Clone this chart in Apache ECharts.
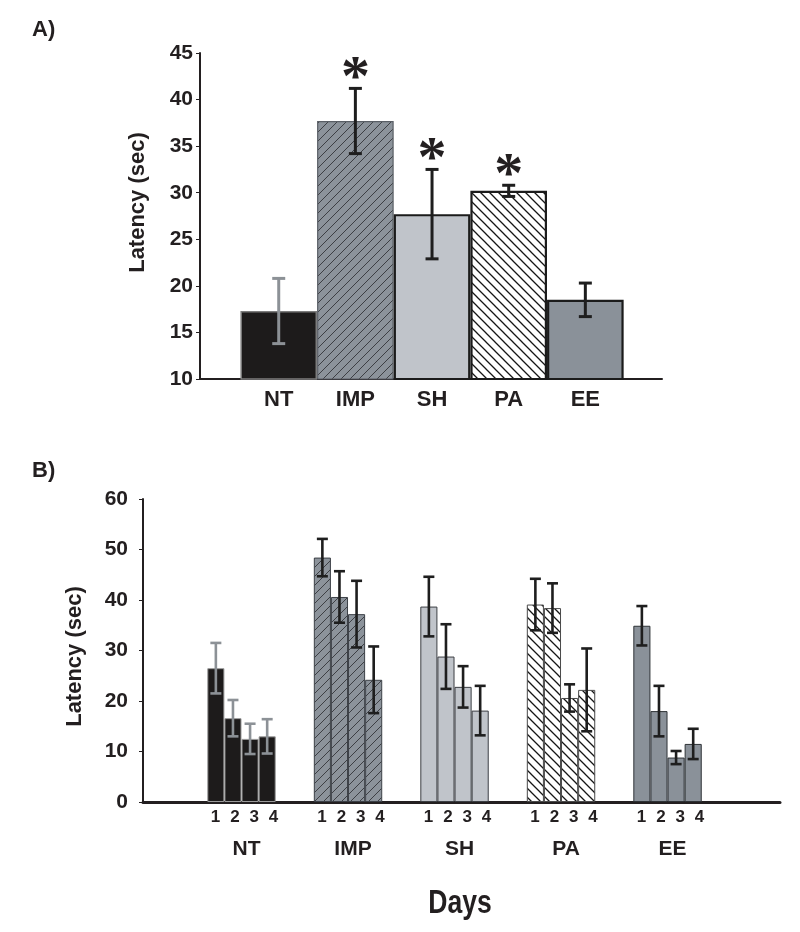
<!DOCTYPE html>
<html>
<head>
<meta charset="utf-8">
<script src="https://cdn.jsdelivr.net/npm/echarts@6/dist/echarts.min.js"></script>
<style>
html,body{margin:0;padding:0;background:#fff;}
#chart{width:800px;height:932px;}
</style>
</head>
<body>
<div id="chart"></div>
<script>
// ---------------- DATA ----------------
const groups = ['NT', 'IMP', 'SH', 'PA', 'EE'];
const days = ['1', '2', '3', '4'];
const yTicksA = [10, 45, 5];   // min, max, interval
const yTicksB = [0, 60, 10];

// Panel A: mean latency (sec) and error
const latencyA = [17.3, 37.7, 27.7, 30.2, 18.5];
const errA = [3.5, 3.5, 4.8, 0.6, 1.8];
const signifA = [0, 1, 1, 1, 0];

// Panel B: latency per day (sec) and error, by group
const latNT = [26.5, 16.6, 12.5, 13.0];
const errNT = [5.0, 3.6, 3.0, 3.4];
const latIMP = [48.4, 40.6, 37.2, 24.2];
const errIMP = [3.7, 5.1, 6.6, 6.6];
const latSH = [38.7, 28.8, 22.8, 18.1];
const errSH = [5.9, 6.4, 4.1, 4.9];
const latPA = [39.1, 38.4, 20.6, 22.2];
const errPA = [5.1, 4.9, 2.7, 8.2];
const latEE = [34.9, 18.0, 8.8, 11.5];
const errEE = [3.9, 5.0, 1.3, 3.0];

const latB = [latNT, latIMP, latSH, latPA, latEE];
const errB = [errNT, errIMP, errSH, errPA, errEE];

// ---------------- STYLES ----------------
const FONT = '"Liberation Sans", Arial, Helvetica, sans-serif';
const INK = '#231f20';

function hatch(bg, fg, dir, s, lw) {
  const c = document.createElement('canvas');
  c.width = s; c.height = s;
  const g = c.getContext('2d');
  g.fillStyle = bg; g.fillRect(0, 0, s, s);
  g.strokeStyle = fg; g.lineWidth = lw;
  g.beginPath();
  if (dir === '/') {
    g.moveTo(-1, 1); g.lineTo(1, -1);
    g.moveTo(0, s); g.lineTo(s, 0);
    g.moveTo(s - 1, s + 1); g.lineTo(s + 1, s - 1);
  } else {
    g.moveTo(-1, s - 1); g.lineTo(1, s + 1);
    g.moveTo(0, 0); g.lineTo(s, s);
    g.moveTo(s - 1, -1); g.lineTo(s + 1, 1);
  }
  g.stroke();
  return { image: c, repeat: 'repeat' };
}

const fillNT = '#1d1b1b';
const fillIMP = hatch('#8c939b', '#34363a', '/', 9, 0.9);
const fillSH = '#c0c4ca';
const fillPA = hatch('#ffffff', '#161616', '\\', 9, 1.3);
const fillEE = '#8a9199';

const styleA = [
  { color: fillNT, borderColor: '#7d7d7d', borderWidth: 1.5 },
  { color: fillIMP, borderColor: '#5a5f66', borderWidth: 1.2 },
  { color: fillSH, borderColor: '#1b1b1b', borderWidth: 2.2 },
  { color: fillPA, borderColor: '#1b1b1b', borderWidth: 2.2 },
  { color: fillEE, borderColor: '#1b1b1b', borderWidth: 2.2 }
];
const styleB = [
  { color: fillNT, borderColor: '#9a9a9a', borderWidth: 1 },
  { color: fillIMP, borderColor: '#3c4047', borderWidth: 1 },
  { color: fillSH, borderColor: '#3c3f44', borderWidth: 1 },
  { color: fillPA, borderColor: '#4a4a4a', borderWidth: 1 },
  { color: fillEE, borderColor: '#2e3236', borderWidth: 1 }
];
const errColor = ['#8c9196', '#1e1e1e', '#1e1e1e', '#1e1e1e', '#1e1e1e'];

// layout constants for panel B (in group units)
const BW = 0.1606;      // bar slot width
const LW = 0.181;       // day label spacing
const LS = 0.028;       // day label shift
const GS = 0.047;       // group label shift

// ---------------- BUILD ----------------
const barDataA = groups.map((g, i) => ({ value: [i, latencyA[i]], itemStyle: styleA[i] }));
const errDataA = groups.map((g, i) => [i, latencyA[i] - errA[i], latencyA[i] + errA[i], i, signifA[i]]);

const barDataB = [];
const errDataB = [];
const dayLabelPos = [];
groups.forEach((g, i) => {
  days.forEach((d, j) => {
    const x = i + (j - 1.5) * BW;
    barDataB.push({ value: [x, latB[i][j]], itemStyle: styleB[i] });
    errDataB.push([x, latB[i][j] - errB[i][j], latB[i][j] + errB[i][j], i, 0]);
    dayLabelPos.push(i + LS + (j - 1.5) * LW);
  });
});

function makeErr(capHalf, lw, starGap) {
  return function (params, api) {
    const x = api.value(0), lo = api.value(1), hi = api.value(2);
    const gi = api.value(3), star = api.value(4);
    const pH = api.coord([x, hi]);
    const pL = api.coord([x, lo]);
    const st = { stroke: errColor[gi], lineWidth: lw };
    const children = [
      { type: 'line', shape: { x1: pH[0], y1: pH[1], x2: pL[0], y2: pL[1] }, style: st },
      { type: 'line', shape: { x1: pH[0] - capHalf, y1: pH[1], x2: pH[0] + capHalf, y2: pH[1] }, style: st },
      { type: 'line', shape: { x1: pL[0] - capHalf, y1: pL[1], x2: pL[0] + capHalf, y2: pL[1] }, style: st }
    ];
    if (star) {
      children.push({
        type: 'text',
        style: {
          text: '*', x: pH[0], y: pH[1] - starGap,
          align: 'center', verticalAlign: 'middle',
          font: 'bold 58px "Liberation Serif", "Times New Roman", serif',
          fill: INK
        }
      });
    }
    return { type: 'group', children: children };
  };
}

const chart = echarts.init(document.getElementById('chart'), null, { renderer: 'canvas' });

const option = {
  backgroundColor: '#ffffff',
  animation: false,
  title: [
    { text: 'A)', left: 27, top: 14, textStyle: { fontFamily: FONT, fontSize: 22, fontWeight: 'bold', color: INK } },
    { text: 'B)', left: 27, top: 455, textStyle: { fontFamily: FONT, fontSize: 22, fontWeight: 'bold', color: INK } }
  ],
  graphic: [
    { type: 'text', x: 460, y: 904, scaleX: 0.78,
      style: { text: 'Days', align: 'center', verticalAlign: 'middle',
        font: 'bold 34px "Liberation Sans", Arial, sans-serif', fill: INK } }
  ],
  grid: [
    { left: 200, top: 53, width: 462, height: 326 },
    { left: 143, top: 499, width: 637, height: 303 }
  ],
  xAxis: [
    {
      gridIndex: 0, type: 'value', min: -1.027, max: 5.0,
      axisLine: { show: true, onZero: false, lineStyle: { color: INK, width: 2 } },
      axisTick: { show: false }, splitLine: { show: false },
      axisLabel: {
        customValues: [0, 1, 2, 3, 4],
        formatter: v => groups[Math.round(v)] || '',
        margin: 10, fontFamily: FONT, fontSize: 22, fontWeight: 'bold', color: INK
      }
    },
    {
      gridIndex: 1, type: 'value', min: -0.925, max: 5.056,
      axisLine: { show: true, onZero: false, lineStyle: { color: INK, width: 3 } },
      axisTick: { show: false }, splitLine: { show: false },
      axisLabel: {
        customValues: dayLabelPos,
        formatter: v => {
          const i = Math.round(v);
          const j = Math.round((v - i - LS) / LW + 1.5);
          return days[j] || '';
        },
        margin: 7, fontFamily: FONT, fontSize: 17, fontWeight: 'bold', color: INK
      }
    },
    {
      gridIndex: 1, type: 'value', min: -0.925, max: 5.056, position: 'bottom',
      axisLine: { show: false }, axisTick: { show: false }, splitLine: { show: false },
      axisLabel: {
        customValues: groups.map((g, i) => i + GS),
        formatter: v => groups[Math.round(v)] || '',
        margin: 37, fontFamily: FONT, fontSize: 21, fontWeight: 'bold', color: INK
      }
    }
  ],
  yAxis: [
    {
      gridIndex: 0, type: 'value', min: yTicksA[0], max: yTicksA[1], interval: yTicksA[2],
      name: 'Latency (sec)', nameLocation: 'middle', nameGap: 51, nameRotate: 90,
      nameTextStyle: { fontFamily: FONT, fontSize: 22, fontWeight: 'bold', color: INK, padding: [0, 0, 0, 27] },
      axisLine: { show: true, onZero: false, lineStyle: { color: INK, width: 2 } },
      axisTick: { show: true, length: 4, lineStyle: { color: INK, width: 1 } },
      splitLine: { show: false },
      axisLabel: { margin: 7, fontFamily: FONT, fontSize: 21, fontWeight: 'bold', color: INK }
    },
    {
      gridIndex: 1, type: 'value', min: yTicksB[0], max: yTicksB[1], interval: yTicksB[2],
      name: 'Latency (sec)', nameLocation: 'middle', nameGap: 57, nameRotate: 90,
      nameTextStyle: { fontFamily: FONT, fontSize: 22, fontWeight: 'bold', color: INK, padding: [0, 12, 0, 0] },
      axisLine: { show: true, onZero: false, lineStyle: { color: INK, width: 2 } },
      axisTick: { show: true, length: 4, lineStyle: { color: INK, width: 1 } },
      splitLine: { show: false },
      axisLabel: { margin: 15, fontFamily: FONT, fontSize: 21, fontWeight: 'bold', color: INK }
    }
  ],
  series: [
    { type: 'bar', xAxisIndex: 0, yAxisIndex: 0, barWidth: 76.6, data: barDataA, clip: true, z: 2 },
    { type: 'custom', xAxisIndex: 0, yAxisIndex: 0, renderItem: makeErr(6.5, 3, 8), data: errDataA, clip: false, z: 5 },
    { type: 'bar', xAxisIndex: 1, yAxisIndex: 1, barWidth: 17.1, data: barDataB, clip: true, z: 2 },
    { type: 'custom', xAxisIndex: 1, yAxisIndex: 1, renderItem: makeErr(5.5, 2.6, 8), data: errDataB, clip: false, z: 5 }
  ]
};
chart.setOption(option);
</script>
</body>
</html>
